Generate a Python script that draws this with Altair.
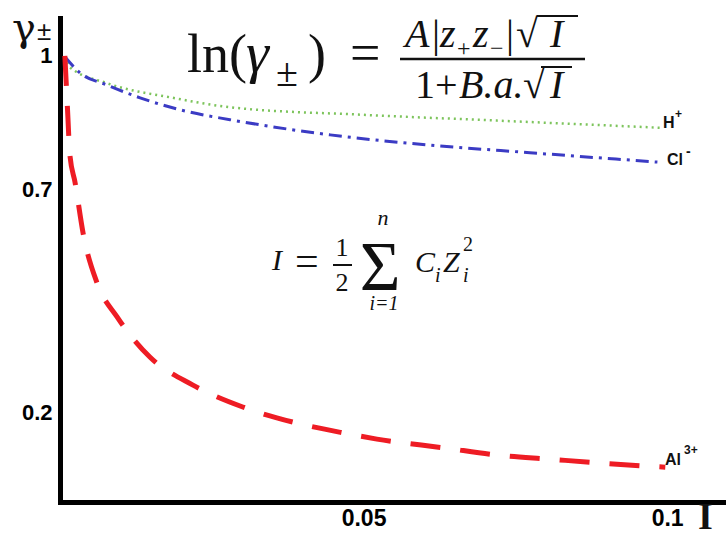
import altair as alt
import pandas as pd

# ---------------- data ----------------
al_I = [0.0008, 0.0010, 0.0013, 0.0016, 0.0025, 0.0038, 0.0061, 0.0094, 0.0148,
        0.0219, 0.0301, 0.0384, 0.0466, 0.0522, 0.0634, 0.0722, 0.0807, 0.0893, 0.0997]
al_g = [1.000, 0.946, 0.863, 0.782, 0.715, 0.603, 0.491, 0.415, 0.325,
        0.262, 0.213, 0.179, 0.155, 0.141, 0.121, 0.105, 0.096, 0.087, 0.078]

h_I = [0.0008, 0.0016, 0.0077, 0.0186, 0.0280, 0.0499, 0.0720, 0.0988]
h_g = [0.998, 0.975, 0.939, 0.906, 0.885, 0.868, 0.855, 0.839]

cl_I = [0.0008, 0.0033, 0.0077, 0.0132, 0.0214, 0.0280, 0.0445, 0.0610, 0.0774, 0.0984]
cl_g = [0.998, 0.962, 0.935, 0.906, 0.874, 0.857, 0.823, 0.800, 0.783, 0.762]

x_ticks = [0.05, 0.1]
y_ticks = [0.2, 0.7, 1]

# ---------------- layout ----------------
X0, Y0 = 60, 18          # plot-area origin in the page
W, H = 666, 484
XMAX, YMAX = 0.1097, 1.085

xs = alt.Scale(domain=[0, XMAX], nice=False, zero=False)
ys = alt.Scale(domain=[0, YMAX], nice=False, zero=False)

xaxis = alt.Axis(values=x_ticks, format="~g", ticks=False, grid=False, title=None,
                 domainColor="black", domainWidth=5, domainCap="square",
                 labelFont="Liberation Sans", labelFontWeight="bold", labelFontSize=23,
                 labelColor="black", labelPadding=5)
yaxis = alt.Axis(values=y_ticks, format="~g", ticks=False, grid=False, title=None,
                 domainColor="black", domainWidth=5, domainCap="square",
                 labelFont="Liberation Sans", labelFontWeight="bold", labelFontSize=22,
                 labelColor="black", labelPadding=8)


def series(I, g, color, width, dash):
    df = pd.DataFrame({"I": I, "g": g})
    return alt.Chart(df).mark_line(color=color, strokeWidth=width, strokeDash=dash,
                                   interpolate="monotone").encode(
        x=alt.X("I:Q", scale=xs, axis=xaxis),
        y=alt.Y("g:Q", scale=ys, axis=yaxis))


def txt(s, x, y, size, font="Liberation Serif", style="normal", weight="normal",
        align="left", color="#111111"):
    return alt.Chart(pd.DataFrame({"t": [s]})).mark_text(
        font=font, fontSize=size, fontStyle=style, fontWeight=weight,
        align=align, baseline="alphabetic", color=color
    ).encode(text="t:N", x=alt.value(x - X0), y=alt.value(y - Y0))


def hline(x1, x2, y, w=2.5, color="#111111"):
    return alt.Chart(pd.DataFrame({"a": [0]})).mark_rule(color=color, strokeWidth=w).encode(
        x=alt.value(x1 - X0), x2=alt.value(x2 - X0), y=alt.value(y - Y0))


layers = [
    series(h_I, h_g, "#7dc45c", 2.5, [2, 4]),
    series(cl_I, cl_g, "#3b3bc4", 3, [13, 6, 3, 6]),
    series(al_I, al_g, "#ee1c24", 5, [30, 20]),
]

# axis titles
layers += [
    txt("γ", 12, 41, 40, font="DejaVu Serif"),
    txt("±", 37, 40, 26, font="Liberation Sans"),
    txt("I", 698, 529, 38, weight="bold"),
]

# series labels
SL = "Liberation Sans"
layers += [
    txt("H", 663, 128, 16, font=SL, weight="bold"),
    txt("+", 675, 118, 12, font=SL, weight="bold"),
    txt("Cl", 667, 165, 16, font=SL, weight="bold"),
    txt("-", 686, 156, 14, font=SL, weight="bold"),
    txt("Al", 665, 465, 16, font=SL, weight="bold"),
    txt("3+", 684, 454, 12, font=SL, weight="bold"),
]

# top formula: ln(γ±) = A|z+z-|√I / (1+B.a.√I)
layers += [
    txt("ln(", 187, 72, 54),
    txt("γ", 246, 72, 58, style="italic"),
    txt("±", 276, 86, 40),
    txt(")", 308, 72, 54),
    txt("=", 350, 71, 54),
    # numerator
    txt("A", 405, 47, 40, style="italic"),
    txt("|", 432, 47, 40),
    txt("z", 440, 47, 40, style="italic"),
    txt("+", 457, 56, 24),
    txt("z", 473, 47, 40, style="italic"),
    txt("−", 490, 56, 24),
    txt("|", 506, 47, 40),
    txt("√", 516, 47, 40),
    txt("I", 550, 47, 40, style="italic"),
    hline(537, 578, 16, 2),
    hline(400, 585, 59, 2.5),
    # denominator
    txt("1+", 415, 98, 40),
    txt("B.a.", 459, 98, 40, style="italic"),
    txt("√", 523, 98, 40),
    txt("I", 550, 98, 40, style="italic"),
    hline(541, 572, 67, 2),
]

# second formula: I = 1/2 Σ Ci Zi^2
layers += [
    txt("I", 272, 270, 30, style="italic"),
    txt("=", 295, 275, 42),
    txt("1", 342, 256, 26, align="center"),
    hline(333, 352, 265, 2),
    txt("2", 342, 291, 26, align="center"),
    txt("Σ", 380, 290, 70, align="center"),
    txt("n", 383, 225, 22, style="italic", align="center"),
    txt("i=1", 384, 310, 20, style="italic", align="center"),
    txt("C", 415, 272, 30, style="italic"),
    txt("i", 435, 282, 20, style="italic"),
    txt("Z", 443, 272, 30, style="italic"),
    txt("2", 463, 251, 20),
    txt("i", 463, 282, 20, style="italic"),
]

chart = alt.layer(*layers).properties(
    width=W, height=H,
    padding={"left": X0, "top": Y0, "right": 0, "bottom": 535 - Y0 - H},
    autosize=alt.AutoSizeParams(type="none"),
    background="white",
).configure_view(stroke=None)

chart.save("out.html", embed_options={"renderer": "svg", "actions": False})
